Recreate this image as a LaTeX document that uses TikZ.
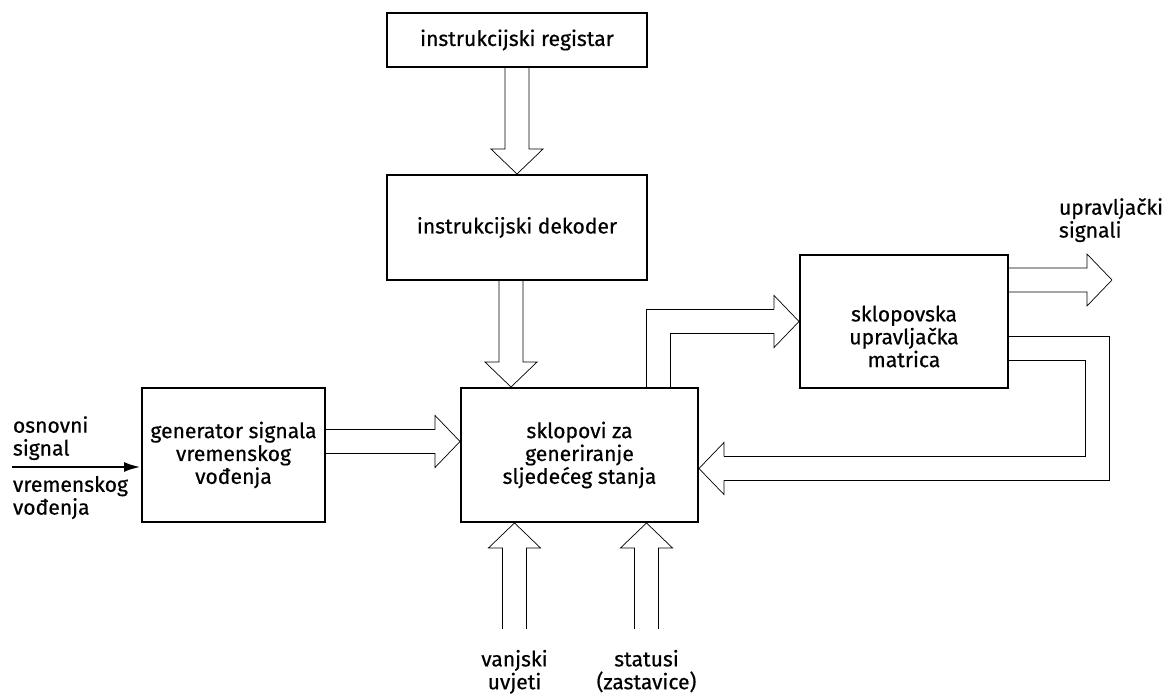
\documentclass[tikz,border=0pt]{standalone}
\usepackage{fontspec}
\setmainfont{Fira Sans}[FakeBold=0.5]
\usetikzlibrary{positioning,arrows.meta,backgrounds}

\tikzset{
  block/.style={draw, align=center, inner sep=2pt},
  lbl/.style={inner sep=0pt, align=left},
  pics/bus/.style={code={\draw[fill=white] (-#1,-12) -- (-25,-12) -- (-25,-26) -- (0,0) -- (-25,26) -- (-25,12) -- (-#1,12);}}
}

\begin{document}
\begin{tikzpicture}[x=0.2mm, y=0.2mm, line width=1.1pt, font=\fontsize{12}{13}\selectfont]
	\useasboundingbox (0,0) rectangle (1169,695);
	% Blocks
	\node[block, minimum width=52mm, minimum height=10.8mm] (reg) at (517,655) {instrukcijski registar};
	\node[block, minimum width=52mm, minimum height=21mm] (dek) at (517,467.5) {instrukcijski dekoder};
	\node[block, minimum width=47.4mm, minimum height=26.8mm] (skl) at (579.5,240) {sklopovi za\\generiranje\\sljedećeg stanja};
	\node[block, minimum width=41.6mm, minimum height=26.6mm] (mat) at (904,373.5) {};
	\node[align=center] (matlbl) at ([yshift=-3mm]mat.center) {sklopovska\\upravljačka\\matrica};
	\node[block, minimum width=36.6mm, minimum height=26.8mm] (gen) at (233.5,240) {generator signala\\vremenskog\\vođenja};
	% Bus ends
	\coordinate (clk) at (12,228);
	\coordinate (ctl) at ([xshift=20.6mm,yshift=8.3mm]mat.east);
	\coordinate (ext) at ([xshift=-13mm]skl.south);
	\coordinate (flg) at ([xshift=13.4mm]skl.south);
	\coordinate (dekout) at ([xshift=-1.2mm]dek.south);
	\coordinate (fb) at ([yshift=-2.7mm]skl.east);
	\coordinate (fbo0) at ([yshift=-3mm]mat.east);
	\coordinate (fbi0) at ([yshift=-7.8mm]mat.east);
	\coordinate (fbo1) at ([xshift=5mm,yshift=-2.4mm]fb);
	\coordinate (fbi1) at ([xshift=5mm,yshift=2.4mm]fb);
	\coordinate (mato) at ([xshift=-5mm,yshift=2.4mm]mat.west);
	\coordinate (mati) at ([xshift=-5mm,yshift=-2.4mm]mat.west);
	% Buses
	\begin{scope}[on background layer]
		\pic[rotate=-90] at (dek.north) {bus=108};
		\pic[rotate=-90] at (dekout |- skl.north) {bus=108};
		\pic at ([yshift=2.7mm]skl.west) {bus=136};
		\pic at (ctl) {bus=103};
		\pic[rotate=90] at (ext) {bus=106};
		\pic[rotate=90] at (flg) {bus=106};
		% to the matrix
		\draw ([xshift=13.4mm]skl.north) |- (mato);
		\draw ([xshift=18.2mm]skl.north) |- (mati);
		\pic at (mat.west) {bus=25};
		% feedback
		\draw (fbo0) -- ++(20mm,0) |- (fbo1);
		\draw (fbi0) -- ++(15.2mm,0) |- (fbi1);
		\pic[rotate=180] at (fb) {bus=25};
	\end{scope}
	% Clock input
	\draw[-{Latex[length=3.4mm,width=2mm]}, line width=1.6pt] (clk) -- (clk -| gen.west);
	% Labels
	\node[lbl, anchor=south west] (clkup) at ([yshift=1.2mm]clk) {osnovni\\signal};
	\node[lbl, anchor=north west] (clkdn) at ([yshift=-1.6mm]clk) {vremenskog\\vođenja};
	\node[lbl, anchor=south west] (ctllbl) at (1058,452) {upravljački\\signali};
	\node[lbl, align=center, below=25.2mm of ext] (extlbl) {vanjski\\uvjeti};
	\node[lbl, align=center, below=25.2mm of flg] (flglbl) {statusi\\(zastavice)};
\end{tikzpicture}
\end{document}
